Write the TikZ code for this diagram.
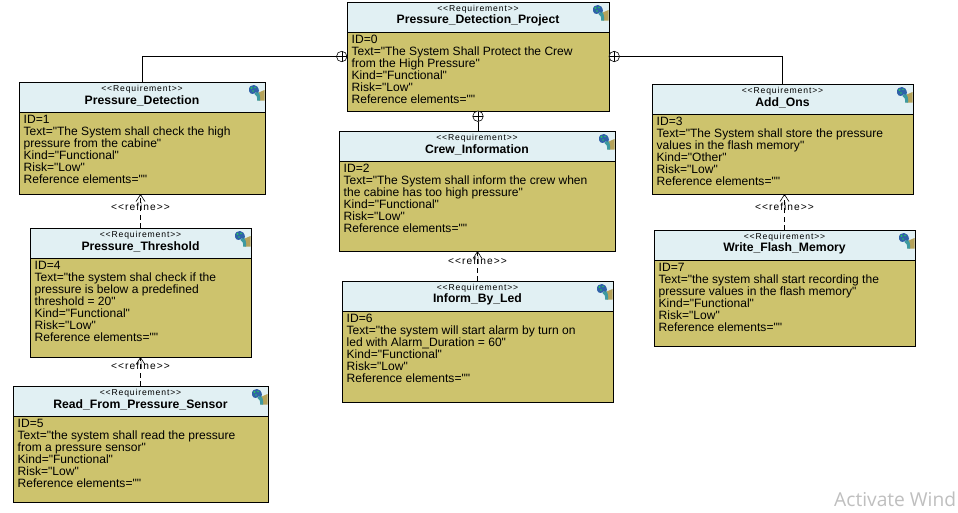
\documentclass[tikz,border=0pt]{standalone}
\usepackage{fontspec}
\newfontfamily\arialfont{Liberation Sans}
\newfontfamily\wmfont{Open Sans}
\newfontfamily\stfont[LetterSpace=10]{Liberation Sans}
\usetikzlibrary{arrows.meta,calc}
\definecolor{hdr}{HTML}{E1F0F3}
\definecolor{bdy}{HTML}{CDC36D}
\definecolor{iconblue}{HTML}{2F62A8}
\definecolor{icontan}{HTML}{B5A25A}
\definecolor{iconteal}{HTML}{3E9AA0}
\tikzset{
  x=1pt,y=-1pt,
  boxbody/.style={draw=black,fill=bdy,line width=0.8pt,inner sep=0pt,outer sep=0pt,anchor=north west},
  boxhead/.style={draw=black,fill=hdr,line width=0.8pt,inner sep=0pt,outer sep=0pt,anchor=north west},
  stereo/.style={font=\stfont\fontsize{8.6}{9}\selectfont,inner sep=0pt,anchor=center},
  titletext/.style={font=\arialfont\bfseries\fontsize{12.2}{12}\selectfont,inner sep=0pt,anchor=center},
  bodytext/.style={font=\arialfont\fontsize{12.05}{12}\selectfont,inner sep=0pt,anchor=north west,align=left},
  solidlink/.style={draw=black,line width=0.6pt},
  refinelink/.style={draw=black,line width=0.6pt,dash pattern=on 5pt off 3.5pt,-{Straight Barb[length=7pt,width=9pt]}},
  refinetext/.style={font=\stfont\fontsize{10.2}{10}\selectfont,inner sep=0pt},
  ownmark/.style={circle,draw=black,fill=white,line width=0.6pt,minimum size=10.5pt,inner sep=0pt,outer sep=0pt,
    path picture={\draw[line width=0.5pt] (path picture bounding box.north) -- (path picture bounding box.south)
      (path picture bounding box.west) -- (path picture bounding box.east);}},
}
% name, x1, y1, x2, y2, yheader, title, body
\newcommand{\reqbox}[8]{%
  \pgfmathsetmacro{\boxw}{#4-#2}\pgfmathsetmacro{\boxh}{#5-#3}\pgfmathsetmacro{\headh}{#6-#3}%
  \pgfmathsetmacro{\boxcx}{(#2+#4)/2}%
  \node[boxbody,minimum width=\boxw pt,minimum height=\boxh pt] (#1) at (#2,#3) {};
  \node[boxhead,minimum width=\boxw pt,minimum height=\headh pt] (#1head) at (#2,#3) {};
  \node[stereo] (#1st) at (\boxcx,#3+7.5) {<{}<Requirement>{}>};
  \node[titletext] (#1ti) at (\boxcx,#3+18.8) {#7};
  \node[bodytext] (#1tx) at (#2+4.5,#6+3) {#8};
  \begin{scope}[shift={(#4-16.5,#3+3)}]
    \fill[icontan] (9,8) -- (16,5) -- (16,15.5) -- (10,15.5) -- cycle;
    \fill[iconteal] (8,6) .. controls (11,7) and (12,11) .. (11.5,15.5) -- (8.5,15.5) .. controls (9,12) and (8,10) .. (6,9) -- cycle;
    \fill[iconblue] (0.5,6) .. controls (0,1) and (3,0) .. (5.5,0) .. controls (8,0) and (10,2) .. (10.5,6) .. controls (10,8) and (8,8) .. (7.5,7) .. controls (6,9.5) and (1.5,10) .. (0.5,6) -- cycle;
    \fill[iconteal!60!green] (3,3) circle (1.1) (6.5,2.5) circle (0.9) (4.5,6) circle (0.9);
  \end{scope}
}
\begin{document}
\begin{tikzpicture}
\useasboundingbox (0,0) rectangle (958,512);
\fill[white] (0,0) rectangle (958,512);

\reqbox{bzero}{347}{2}{609}{111}{32}{Pressure\_Detection\_Project}{ID=0\\Text="The System Shall Protect the Crew\\from the High Pressure"\\Kind="Functional"\\Risk="Low"\\Reference elements=""}
\reqbox{bone}{19}{82}{265}{194}{112}{Pressure\_Detection}{ID=1\\Text="The System shall check the high\\pressure from the cabine"\\Kind="Functional"\\Risk="Low"\\Reference elements=""}
\reqbox{btwo}{339}{131}{615}{251}{161}{Crew\_Information}{ID=2\\Text="The System shall inform the crew when\\the cabine has too high pressure"\\Kind="Functional"\\Risk="Low"\\Reference elements=""}
\reqbox{bthree}{652}{84}{913}{194}{114}{Add\_Ons}{ID=3\\Text="The System shall store the pressure\\values in the flash memory"\\Kind="Other"\\Risk="Low"\\Reference elements=""}
\reqbox{bfour}{30}{228}{251}{357}{258}{Pressure\_Threshold}{ID=4\\Text="the system shal check if the\\pressure is below a predefined\\threshold = 20"\\Kind="Functional"\\Risk="Low"\\Reference elements=""}
\reqbox{bfive}{13}{386}{268}{502}{416}{Read\_From\_Pressure\_Sensor}{ID=5\\Text="the system shall read the pressure\\from a pressure sensor"\\Kind="Functional"\\Risk="Low"\\Reference elements=""}
\reqbox{bsix}{342}{281}{613}{402}{311}{Inform\_By\_Led}{ID=6\\Text="the system will start alarm by turn on\\led with Alarm\_Duration = 60"\\Kind="Functional"\\Risk="Low"\\Reference elements=""}
\reqbox{bseven}{654}{230}{915}{346}{260}{Write\_Flash\_Memory}{ID=7\\Text="the system shall start recording the\\pressure values in the flash memory"\\Kind="Functional"\\Risk="Low"\\Reference elements=""}

% containment links
\node[ownmark,anchor=east] (markwest) at (bzero.west) {};
\node[ownmark,anchor=west] (markeast) at (bzero.east) {};
\node[ownmark,anchor=north] (marksouth) at (bzero.south) {};
\draw[solidlink] (markwest.west) -| (bone.north);
\draw[solidlink] (markeast.east) -| (bthree.north);
\draw[solidlink] (marksouth.south) -- (marksouth.south |- btwo.north);

% refine links
\draw[refinelink] (bfour.north) -- (bfour.north |- bone.south);
\draw[refinelink] (bfive.north) -- (bfive.north |- bfour.south);
\draw[refinelink] (bsix.north) -- (bsix.north |- btwo.south);
\draw[refinelink] (bseven.north) -- (bseven.north |- bthree.south);
\node[refinetext] (rone) at ($(bfour.north |- bone.south)+(0,12.5)$) {<{}<refine>{}>};
\node[refinetext] (rtwo) at ($(bfive.north |- bfour.south)+(0,9)$) {<{}<refine>{}>};
\node[refinetext] (rthree) at ($(bsix.north |- btwo.south)+(0,10)$) {<{}<refine>{}>};
\node[refinetext] (rfour) at ($(bseven.north |- bthree.south)+(0,12.5)$) {<{}<refine>{}>};

\node[font=\wmfont\fontsize{19.2}{20}\selectfont,text=black!25,inner sep=0pt,anchor=west] (wm) at (834,499) {Activate Wind};
\end{tikzpicture}
\end{document}
